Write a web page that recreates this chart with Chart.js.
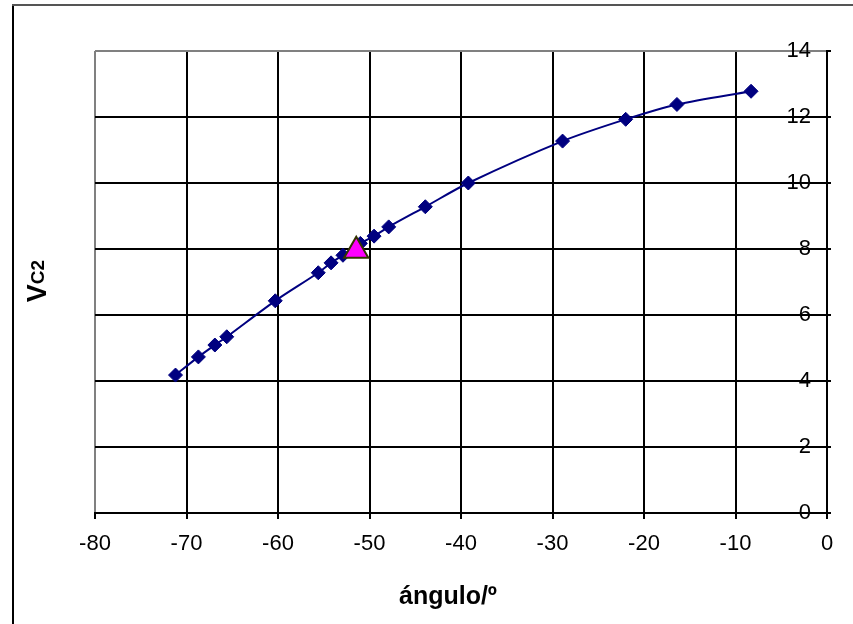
<!DOCTYPE html>
<html>
<head>
<meta charset="utf-8">
<script src="https://cdn.jsdelivr.net/npm/chart.js@4.4.1/dist/chart.umd.min.js"></script>
<style>
  html, body { margin: 0; padding: 0; background: #fff; }
</style>
</head>
<body>
<canvas id="grafica" width="853" height="624"></canvas>
<script>
// valores
const angulo = [-71.2, -68.7, -66.9, -65.6, -60.3, -55.6, -54.2, -52.9, -51.0, -49.5, -47.9, -43.9, -39.2, -28.9, -22.0, -16.4, -8.3];
const vc2 = [4.18, 4.73, 5.09, 5.34, 6.43, 7.28, 7.58, 7.81, 8.17, 8.39, 8.67, 9.28, 10.0, 11.27, 11.93, 12.38, 12.78];

// punto destacado (triángulo)
const anguloMarca = [-51.45];
const vc2Marca = [7.95];

const ticksX = [-80, -70, -60, -50, -40, -30, -20, -10, 0];
const ticksY = [0, 2, 4, 6, 8, 10, 12, 14];

const fuente = '"Liberation Sans", Arial, sans-serif';

const serie = angulo.map((a, i) => ({ x: a, y: vc2[i] }));
const marca = anguloMarca.map((a, i) => ({ x: a, y: vc2Marca[i] }));

// marco exterior y títulos de los ejes
const marco = {
  id: 'marco',
  beforeDraw(chart) {
    const c = chart.ctx;
    c.save();
    c.fillStyle = '#fff';
    c.fillRect(0, 0, chart.width, chart.height);
    c.strokeStyle = '#000';
    c.lineWidth = 2;
    c.beginPath();
    c.moveTo(13, chart.height);
    c.lineTo(13, 5);
    c.stroke();
    c.strokeStyle = '#555';
    c.beginPath();
    c.moveTo(12, 5);
    c.lineTo(chart.width, 5);
    c.stroke();
    c.restore();
  },
  afterDraw(chart) {
    const c = chart.ctx;
    c.save();
    c.fillStyle = '#000';
    // título eje x
    c.font = 'bold 25px ' + fuente;
    c.textAlign = 'center';
    c.textBaseline = 'alphabetic';
    c.fillText('ángulo/º', 448, 604);
    // título eje y: V con subíndice C2
    c.translate(37, 281);
    c.rotate(-Math.PI / 2);
    c.textAlign = 'left';
    c.font = 'bold 27px ' + fuente;
    const wV = c.measureText('V').width;
    c.font = 'bold 19px ' + fuente;
    const wC = c.measureText('C2').width;
    const x0 = -(wV + wC) / 2;
    c.font = 'bold 27px ' + fuente;
    c.fillText('V', x0, 9);
    c.font = 'bold 19px ' + fuente;
    c.fillText('C2', x0 + wV, 7);
    c.restore();
  }
};

new Chart(document.getElementById('grafica'), {
  type: 'scatter',
  data: {
    datasets: [
      {
        data: marca,
        pointStyle: 'triangle',
        pointRadius: 14,
        pointHoverRadius: 14,
        backgroundColor: '#ff00ff',
        borderColor: '#333300',
        borderWidth: 2,
        order: 0
      },
      {
        data: serie,
        showLine: true,
        tension: 0.3,
        borderColor: '#000080',
        borderWidth: 2,
        pointStyle: 'rectRot',
        pointRadius: 7,
        pointHoverRadius: 7,
        pointBackgroundColor: '#000080',
        pointBorderColor: '#000080',
        pointBorderWidth: 1,
        order: 1
      }
    ]
  },
  options: {
    responsive: false,
    animation: false,
    devicePixelRatio: 1,
    layout: { padding: { left: 95, top: 51, right: 0, bottom: 0 } },
    plugins: {
      legend: { display: false },
      tooltip: { enabled: false }
    },
    scales: {
      x: {
        type: 'linear',
        position: 'bottom',
        min: -80,
        max: 0,
        afterBuildTicks: s => { s.ticks = ticksX.map(v => ({ value: v })); },
        afterFit: s => { s.height = 111; },
        grid: {
          color: ctx => (ctx.tick && ctx.tick.value === -80 ? '#808080' : '#000'),
          lineWidth: 2,
          tickColor: '#000',
          tickLength: 6
        },
        border: { color: '#000', width: 2 },
        ticks: {
          color: '#000',
          font: { family: fuente, size: 22 },
          padding: 12,
          maxRotation: 0
        }
      },
      y: {
        type: 'linear',
        position: 'right',
        min: 0,
        max: 14,
        afterBuildTicks: s => { s.ticks = ticksY.map(v => ({ value: v })); },
        afterFit: s => { s.width = 26; },
        grid: {
          color: ctx => (ctx.tick && ctx.tick.value === 14 ? '#808080' : '#000'),
          lineWidth: 2,
          tickColor: '#000',
          tickLength: 4
        },
        border: { color: '#000', width: 2 },
        ticks: {
          color: '#000',
          mirror: true,
          padding: -16,
          font: { family: fuente, size: 22 }
        }
      }
    }
  },
  plugins: [marco]
});
</script>
</body>
</html>
